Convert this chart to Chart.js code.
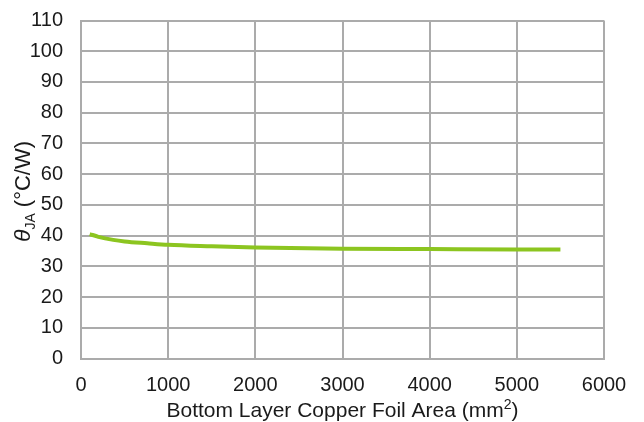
<!DOCTYPE html>
<html>
<head>
<meta charset="utf-8">
<script src="https://cdn.jsdelivr.net/npm/chart.js@4/dist/chart.umd.min.js"></script>
<style>
  html, body { margin: 0; padding: 0; background: #fff; }
  #wrap { width: 644px; height: 422px; }
</style>
</head>
<body>
<div id="wrap"><canvas id="c" width="644" height="422"></canvas></div>
<script>
// Thermal resistance vs. bottom-layer copper foil area
const foilArea = [100, 200, 370, 500, 760, 1000, 1500, 2000, 3000, 4000, 5000, 5500];
const thetaJA  = [40.5, 39.6, 38.6, 38.1, 37.5, 37.0, 36.5, 36.1, 35.7, 35.6, 35.5, 35.5];
const xTicks = [0, 1000, 2000, 3000, 4000, 5000, 6000];
const yTicks = [0, 10, 20, 30, 40, 50, 60, 70, 80, 90, 100, 110];

const FONT = 'Liberation Sans, Arial, sans-serif';
const TICK_SIZE = 20;
const GRID = '#ababab';
const INK = '#1a1a1a';

// Axis titles with sub/superscripts, drawn as text pieces
const axisTitles = {
  id: 'axisTitles',
  afterDraw(chart) {
    const ctx = chart.ctx;
    const area = chart.chartArea;
    ctx.save();
    ctx.fillStyle = INK;
    ctx.textBaseline = 'alphabetic';
    ctx.textAlign = 'left';

    // x title: Bottom Layer Copper Foil Area (mm²)
    const main = 'Bottom Layer Copper Foil Area (mm';
    const sup = '2';
    const tail = ')';
    const big = '21px ' + FONT, small = '14px ' + FONT;
    ctx.font = big; const w1 = ctx.measureText(main).width; const w3 = ctx.measureText(tail).width;
    ctx.font = small; const w2 = ctx.measureText(sup).width;
    const total = w1 + w2 + w3;
    let x = (area.left + area.right) / 2 - total / 2;
    const by = 417;
    ctx.font = big; ctx.fillText(main, x, by); x += w1;
    ctx.font = small; ctx.fillText(sup, x, by - 8); x += w2;
    ctx.font = big; ctx.fillText(tail, x, by);

    // y title: θJA (°C/W), rotated
    ctx.translate(30, (area.top + area.bottom) / 2 + 2);
    ctx.rotate(-Math.PI / 2);
    const th = 'θ', sub = 'JA', rest = ' (°C/W)';
    const thFont = 'italic 23px ' + FONT;
    const subFont = '14px ' + FONT;
    const restFont = '22px ' + FONT;
    ctx.font = thFont; const a = ctx.measureText(th).width;
    ctx.font = subFont; const b = ctx.measureText(sub).width;
    ctx.font = restFont; const c = ctx.measureText(rest).width;
    let yx = -(a + b + c) / 2;
    ctx.font = thFont; ctx.fillText(th, yx, 0); yx += a;
    ctx.font = subFont; ctx.fillText(sub, yx, 5); yx += b;
    ctx.font = restFont; ctx.fillText(rest, yx, 0);
    ctx.restore();
  }
};

new Chart(document.getElementById('c'), {
  type: 'line',
  data: {
    datasets: [{
      data: foilArea.map((v, i) => ({ x: v, y: thetaJA[i] })),
      borderColor: '#8cc520',
      borderWidth: 4,
      pointRadius: 0,
      cubicInterpolationMode: 'monotone',
      fill: false
    }]
  },
  options: {
    responsive: false,
    animation: false,
    devicePixelRatio: 1,
    layout: { padding: { left: 0, right: 40, top: 20.5, bottom: 0 } },
    plugins: { legend: { display: false }, tooltip: { enabled: false } },
    scales: {
      x: {
        type: 'linear',
        min: 0, max: 6000,
        afterBuildTicks(scale) { scale.ticks = xTicks.map(v => ({ value: v })); },
        afterFit(scale) {
          scale.height = 63.5;
          scale.paddingLeft = 0; scale.paddingRight = 0;
        },
        grid: { color: GRID, lineWidth: 2, drawTicks: false },
        border: { color: GRID, width: 2 },
        ticks: {
          color: INK, font: { family: FONT, size: TICK_SIZE }, padding: 15, maxRotation: 0,
          callback: v => String(v)
        }
      },
      y: {
        type: 'linear',
        min: 0, max: 110,
        afterBuildTicks(scale) { scale.ticks = yTicks.map(v => ({ value: v })); },
        afterFit(scale) {
          scale.width = 81;
          scale.paddingTop = 0; scale.paddingBottom = 0;
        },
        grid: { color: GRID, lineWidth: 2, drawTicks: false },
        border: { color: GRID, width: 2 },
        ticks: { color: INK, font: { family: FONT, size: TICK_SIZE }, padding: 18, callback: v => String(v) }
      }
    }
  },
  plugins: [axisTitles]
});
</script>
</body>
</html>
